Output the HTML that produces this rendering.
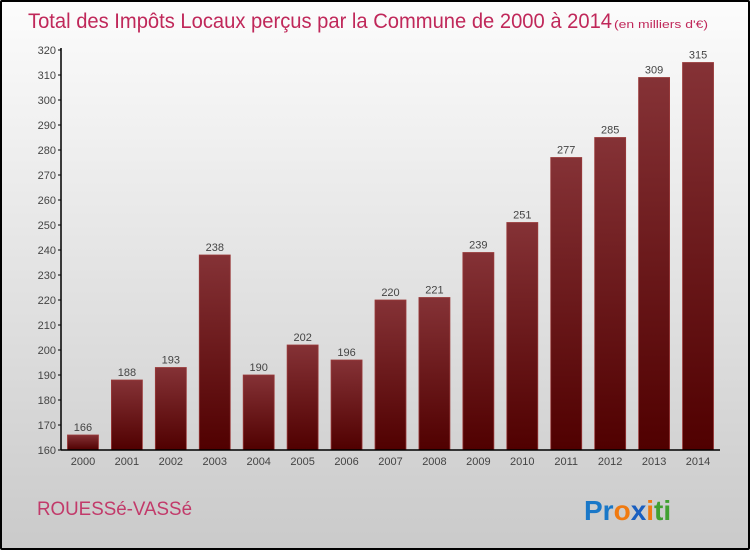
<!DOCTYPE html>
<html><head><meta charset="utf-8"><style>
body{margin:0;width:750px;height:550px;overflow:hidden;font-family:"Liberation Sans",sans-serif}
#root{position:relative;width:746px;height:546px;border:2px solid #000;border-radius:2px;background:linear-gradient(#fcfcfc,#dedede 60%,#cacaca)}
</style></head><body>
<div id="root">
<svg id="chart" width="746" height="546" style="position:absolute;left:0;top:0">
<defs><linearGradient id="bg" x1="0" y1="0" x2="0" y2="1"><stop offset="0" stop-color="#853236"/><stop offset="1" stop-color="#500000"/></linearGradient></defs>
<text x="26" y="26" font-size="21" fill="#c0285a" textLength="584" lengthAdjust="spacingAndGlyphs">Total des Impôts Locaux perçus par la Commune de 2000 à 2014</text>
<text x="612" y="26" font-size="11" fill="#c0285a" textLength="94" lengthAdjust="spacingAndGlyphs">(en milliers d'€)</text>
<text x="35" y="513" font-size="19" fill="#c23a6a" textLength="155" lengthAdjust="spacingAndGlyphs">ROUESSé-VASSé</text>
<text x="582" y="518" font-size="28" font-weight="bold"><tspan fill="#1a78c8">Pr</tspan><tspan fill="#f07a10">o</tspan><tspan fill="#1a5fc0">x</tspan><tspan fill="#f07a10">i</tspan><tspan fill="#40a030">ti</tspan></text>
<g id="plot"></g>
</svg>
</div>
<script>
const categories=["2000","2001","2002","2003","2004","2005","2006","2007","2008","2009","2010","2011","2012","2013","2014"];
const values=[166,188,193,238,190,202,196,220,221,239,251,277,285,309,315];
const yTicks=[160,170,180,190,200,210,220,230,240,250,260,270,280,290,300,310,320];
const NS="http://www.w3.org/2000/svg";
const g=document.getElementById('plot');
const x0=59,x1=718,yTop=48,yBot=448,vMin=160,vMax=320;
const y=v=>yBot-(v-vMin)/(vMax-vMin)*(yBot-yTop);
const step=(x1-x0)/categories.length;
const xc=i=>x0+step*(i+0.5);
function mk(t,a){const e=document.createElementNS(NS,t);for(const k in a)e.setAttribute(k,a[k]);g.appendChild(e);return e;}
yTicks.forEach(v=>{
 const l=mk('line',{x1:x0-3,x2:x0,y1:y(v),y2:y(v),stroke:'#000'});
 
 
 const t=mk('text',{x:x0-5,y:y(v)+4,'text-anchor':'end','font-size':'11',fill:'#444'});
 t.textContent=v;
 
 
});
values.forEach((v,i)=>{
 const w=31,cx=xc(i);
 const r=mk('rect',{x:cx-w/2,y:y(v),width:w,height:yBot-y(v),fill:'url(#bg)',stroke:'#9a3a3a','stroke-width':'0.8'});
 
 
 const t=mk('text',{x:cx,y:y(v)-4,'text-anchor':'middle','font-size':'11',fill:'#444'});
 t.textContent=v;
 
 
 const c=mk('text',{x:cx,y:yBot+15,'text-anchor':'middle','font-size':'11',fill:'#444'});
 c.textContent=categories[i];
 
 
});
const ya=mk('line',{x1:x0,x2:x0,y1:yTop-2,y2:yBot,stroke:'#000','stroke-width':'1.5'});


const xa=mk('line',{x1:x0,x2:x1,y1:yBot,y2:yBot,stroke:'#000','stroke-width':'1.5'});


</script>
</body></html>
